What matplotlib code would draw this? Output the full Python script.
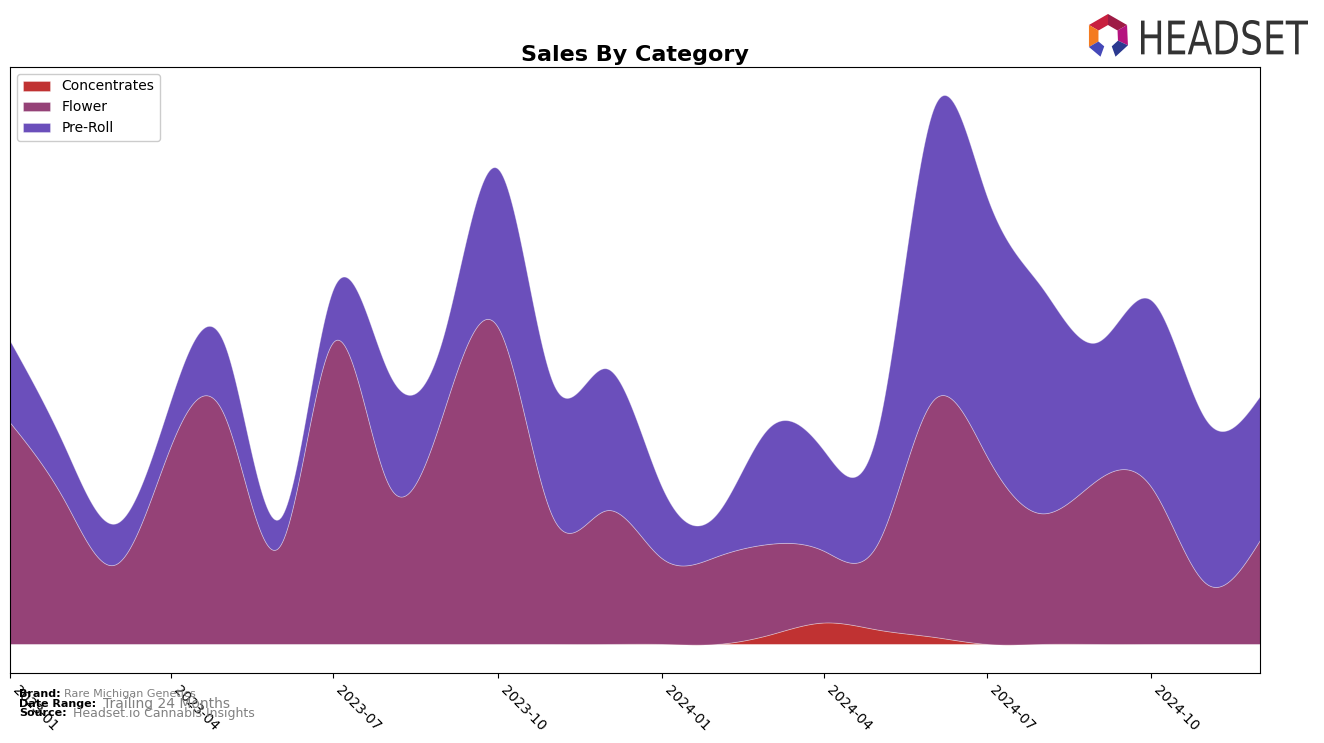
import numpy as np
import pandas as pd
import matplotlib
matplotlib.use("Agg")
import matplotlib.pyplot as plt
from matplotlib.patches import Polygon, PathPatch
from matplotlib.textpath import TextPath
from matplotlib.font_manager import FontProperties
from matplotlib.transforms import Affine2D

# ---------------- data (monthly) ----------------
months = ["2023-01", "2023-02", "2023-03", "2023-04", "2023-05", "2023-06",
          "2023-07", "2023-08", "2023-09", "2023-10", "2023-11", "2023-12",
          "2024-01", "2024-02", "2024-03", "2024-04", "2024-05", "2024-06",
          "2024-07", "2024-08", "2024-09", "2024-10", "2024-11", "2024-12"]
concentrates = [0, 0, 0, 0, 0, 0, 0, 0, 0, 0, 0, 0,
                0, 0, 9, 21, 14, 7, 0, 0, 0, 0, 0, 0]
flower = [217, 139, 78, 194, 224, 96, 296, 156, 229, 311, 124, 131,
          84, 86, 89, 70, 85, 232, 184, 128, 161, 154, 59, 102]
preroll = [80, 53, 40, 45, 70, 27, 52, 110, 75, 155, 132, 139,
           70, 42, 114, 98, 112, 285, 255, 221, 135, 183, 160, 141]
categories = ["Concentrates", "Flower", "Pre-Roll"]
colors = ["#C03232", "#954277", "#6B4FBB"]
tick_labels = ["2023-01", "2023-04", "2023-07", "2023-10",
               "2024-01", "2024-04", "2024-07", "2024-10"]


def natural_spline(x, y, xs):
    x = np.asarray(x, float); y = np.asarray(y, float)
    n = len(x)
    h = np.diff(x)
    A = np.zeros((n, n)); b = np.zeros(n)
    A[0, 0] = 1; A[-1, -1] = 1
    for i in range(1, n - 1):
        A[i, i - 1] = h[i - 1]
        A[i, i] = 2 * (h[i - 1] + h[i])
        A[i, i + 1] = h[i]
        b[i] = 3 * ((y[i + 1] - y[i]) / h[i] - (y[i] - y[i - 1]) / h[i - 1])
    c = np.linalg.solve(A, b)
    bb = (y[1:] - y[:-1]) / h - h * (2 * c[:-1] + c[1:]) / 3
    d = (c[1:] - c[:-1]) / (3 * h)
    idx = np.clip(np.searchsorted(x, xs) - 1, 0, n - 2)
    dx = xs - x[idx]
    return y[idx] + bb[idx] * dx + c[idx] * dx ** 2 + d[idx] * dx ** 3


dates = pd.to_datetime(months)
xnum = matplotlib.dates.date2num(dates)
xs = np.linspace(xnum[0], xnum[-1], 800)
series = [natural_spline(xnum, s, xs) for s in (concentrates, flower, preroll)]

W, H = 1324, 743
fig = plt.figure(figsize=(W / 100, H / 100), dpi=100)
ax = fig.add_axes([10 / W, 70 / H, 1250 / W, 606 / H])
ax.stackplot(xs, *series, colors=colors, labels=categories,
             edgecolor=(1, 1, 1, 0.35), linewidth=0.6)

total = np.sum(series, axis=0)
m = total.max()
ax.set_ylim(-0.053 * m, 1.051 * m)
ax.set_xlim(xnum[0], xnum[-1])
ax.set_yticks([])
tick_pos = matplotlib.dates.date2num(pd.to_datetime(tick_labels))
ax.set_xticks(tick_pos)
ax.set_xticklabels(tick_labels, rotation=-45, ha="left", fontsize=10)
ax.set_title("Sales By Category", fontsize=16, fontweight="bold", pad=4)
ax.legend(loc="upper left", fontsize=10, framealpha=1, edgecolor="#cccccc")

# footer
fig.text(19 / W, 1 - 694 / H, "Brand:", fontsize=8, fontweight="bold", va="center")
fig.text(64 / W, 1 - 694 / H, "Rare Michigan Genetics", fontsize=8, color="gray", va="center")
fig.text(19 / W, 1 - 704 / H, "Date Range:", fontsize=8, fontweight="bold", va="center")
fig.text(103 / W, 1 - 704 / H, "Trailing 24 Months", fontsize=10, color="gray", va="center")
fig.text(19 / W, 1 - 713 / H, "Source:", fontsize=8, fontweight="bold", va="center")
fig.text(73 / W, 1 - 713 / H, "Headset.io Cannabis Insights", fontsize=9, color="gray", va="center")

# logo text, horizontally condensed to fit the box x 1141..1308, y 20..55 (pixels)
tp = TextPath((0, 0), "HEADSET", size=1, prop=FontProperties(family="DejaVu Sans"))
ext = tp.get_extents()
x0, x1, ytop, ybot = 1141, 1308, 20, 55
sx = (x1 - x0) / ext.width
sy = (ybot - ytop) / ext.height
tr = (Affine2D().translate(-ext.x0, -ext.y0).scale(sx, sy)
      .translate(x0, H - ybot).scale(1 / W, 1 / H)) + fig.transFigure
fig.patches.append(PathPatch(tp, facecolor="#333333", edgecolor="none", transform=tr))

cx, cy, ro, ri = 1108, 36, 22, 11
segs = [(150, 90, "#C8203F"), (90, 30, "#9E1B45"), (30, -25, "#B5137F"),
        (-25, -70, "#2B3990"), (210, 150, "#F47B20"), (250, 210, "#4548B8")]
for a0, a1, col in segs:
    t0, t1 = np.radians(a0), np.radians(a1)
    pts = [(cx + ro * np.cos(t0), cy - ro * np.sin(t0)),
           (cx + ro * np.cos(t1), cy - ro * np.sin(t1)),
           (cx + ri * np.cos(t1), cy - ri * np.sin(t1)),
           (cx + ri * np.cos(t0), cy - ri * np.sin(t0))]
    pts = [(px / W, 1 - py / H) for px, py in pts]
    fig.patches.append(Polygon(pts, closed=True, facecolor=col, edgecolor="none",
                               transform=fig.transFigure))

fig.savefig("out.png", dpi=100)
